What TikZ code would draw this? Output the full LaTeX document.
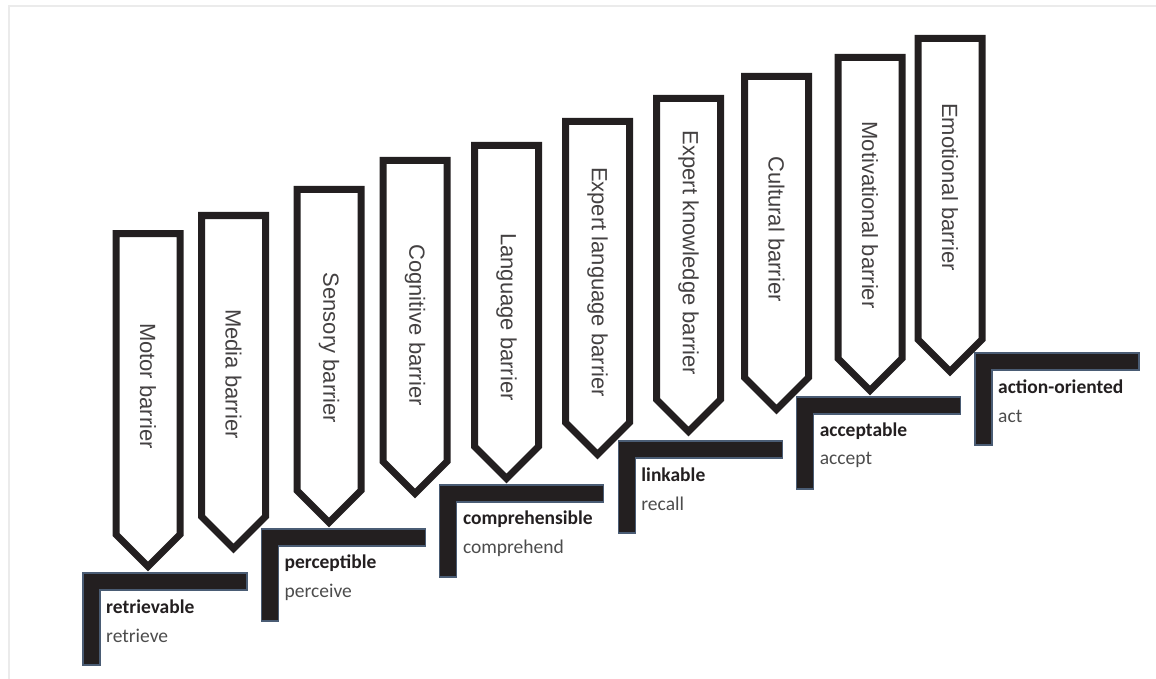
\documentclass[tikz,border=0pt]{standalone}
\usepackage{fontspec}
\setmainfont{Liberation Sans}
\newfontfamily\stepfont{Carlito}
\definecolor{ink}{HTML}{231F20}
\definecolor{rim}{HTML}{4A5C74}
\begin{document}
\begin{tikzpicture}[x=1pt, y=-1pt, line join=miter,
    barrier/.style={draw=ink, line width=7pt, fill=white},
    btext/.style={rotate=-90, text=ink!85, font=\fontsize{22}{26}\selectfont},
    stair/.style={fill=ink, draw=rim, line width=1.2pt},
    stext/.style={anchor=west, inner sep=0pt, font=\stepfont\fontsize{19.5}{23}\selectfont}]
  \useasboundingbox (0,0) rectangle (1156,679);
  \draw[black!8, line width=2pt] (9,679) -- (9,6) -- (1156,6);
  \def\ah{333} % height of an arrow
  \def\aw{32}  % half width
  \foreach \x/\t/\y/\lbl [count=\i] in {148/233.5/386/Motor barrier,
      233.5/215.5/374/Media barrier, 329/189.5/348/Sensory barrier,
      415/160.5/325/Cognitive barrier, 506.5/145.5/317/Language barrier,
      597.5/121.5/282/Expert language barrier, 688.5/98.5/253/Expert knowledge barrier,
      776.5/76.5/229/Cultural barrier, 870/57.5/215/Motivational barrier,
      950/38.5/187/Emotional barrier}{
    \draw[barrier] (\x-\aw,\t+\ah-\aw) -- (\x-\aw,\t) -- (\x+\aw,\t)
      -- (\x+\aw,\t+\ah-\aw) -- (\x,\t+\ah) -- cycle;
    \node[btext] (b\i) at (\x,\y) {\lbl};
  }
  \foreach \hi/\lo [count=\i from 0] in {retrievable/retrieve, perceptible/perceive,
      comprehensible/comprehend, linkable/recall, acceptable/accept, action-oriented/act}{
    \pgfmathsetmacro\sx{83+178.4*\i}
    \pgfmathsetmacro\sy{573-44*\i}
    \draw[stair] (\sx,\sy) -- ++(164,0) -- ++(0,17) -- ++(-147,0) -- ++(0,75)
      -- ++(-17,0) -- cycle;
    \node[stext, text=ink] (q\i) at (\sx+23,\sy+34) {\textbf{\hi}};
    \node[stext, text=black!70] (v\i) at (\sx+23,\sy+63) {\lo};
  }
\end{tikzpicture}
\end{document}
